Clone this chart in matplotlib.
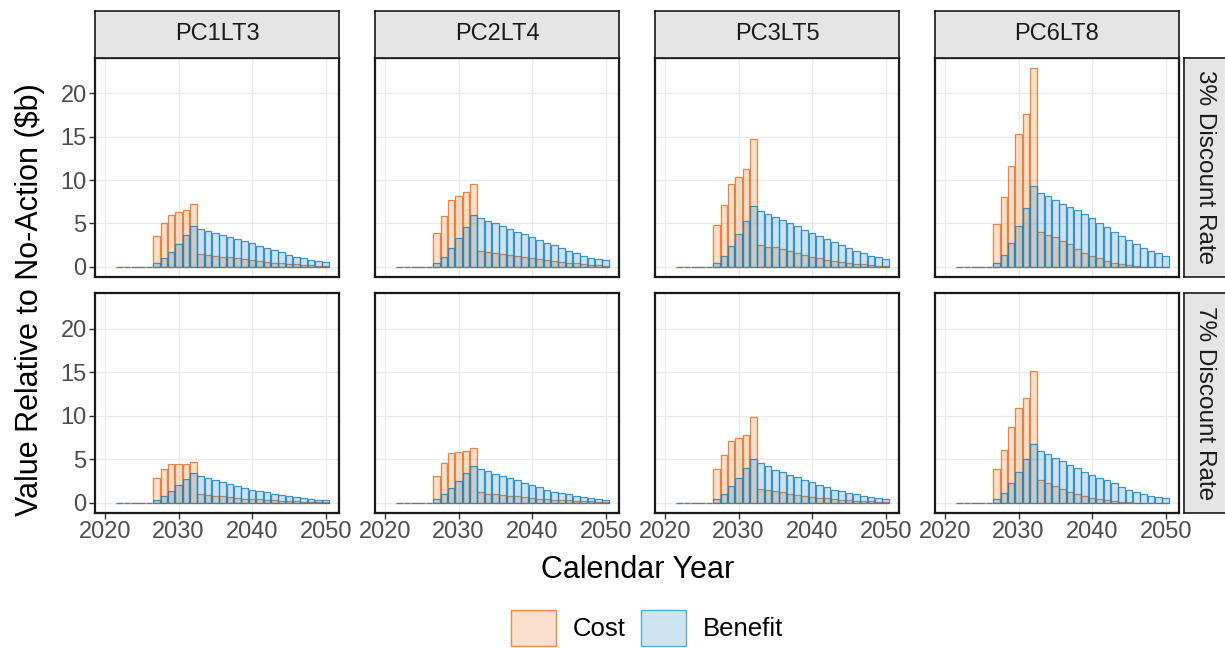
import matplotlib
matplotlib.use("Agg")
import matplotlib.pyplot as plt
from matplotlib.patches import Patch

plt.rcParams['font.family'] = ['Liberation Sans', 'DejaVu Sans']

years = list(range(2022, 2051))
scenarios = ['PC1LT3', 'PC2LT4', 'PC3LT5', 'PC6LT8']
rates = ['3% Discount Rate', '7% Discount Rate']

# 3% discount rate
cost_3 = {
  'PC1LT3': [0, 0, 0, 0, 0, 3.5, 5.0, 6.0, 6.3, 6.5, 7.2, 1.46, 1.35, 1.23, 1.15, 1.08, 0.96, 0.85,
             0.77, 0.65, 0.54, 0.46, 0.40, 0.33, 0.27, 0.20, 0.15, 0.10, 0.07],
  'PC2LT4': [0, 0, 0, 0, 0, 3.85, 5.9, 7.7, 8.2, 8.65, 9.5, 1.85, 1.7, 1.6, 1.5, 1.35, 1.23, 1.1,
             0.96, 0.85, 0.73, 0.62, 0.54, 0.46, 0.38, 0.30, 0.23, 0.15, 0.10],
  'PC3LT5': [0, 0, 0, 0, 0, 4.85, 7.1, 9.6, 10.4, 11.3, 14.8, 2.5, 2.3, 2.23, 2.08, 1.85, 1.62, 1.38,
             1.15, 0.96, 0.80, 0.65, 0.54, 0.42, 0.35, 0.27, 0.19, 0.12, 0.08],
  'PC6LT8': [0, 0, 0, 0, 0, 4.9, 8.0, 11.65, 15.3, 17.65, 23.0, 4.04, 3.69, 3.38, 2.96, 2.58, 2.08, 1.62,
             1.23, 0.96, 0.65, 0.46, 0.31, 0.19, 0.08, 0.0, -0.08, -0.1, -0.1],
}
benefit_3 = {
  'PC1LT3': [0, 0, 0, 0, 0, 0.46, 0.96, 1.73, 2.65, 3.6, 4.65, 4.38, 4.15, 3.88, 3.65, 3.42, 3.19, 2.92,
             2.7, 2.42, 2.12, 1.88, 1.65, 1.38, 1.15, 0.96, 0.77, 0.62, 0.54],
  'PC2LT4': [0, 0, 0, 0, 0, 0.46, 1.15, 2.1, 3.27, 4.54, 5.92, 5.58, 5.3, 5.0, 4.65, 4.35, 4.04, 3.73,
             3.42, 3.08, 2.77, 2.46, 2.15, 1.85, 1.54, 1.27, 1.04, 0.85, 0.73],
  'PC3LT5': [0, 0, 0, 0, 0, 0.46, 1.23, 2.38, 3.73, 5.23, 6.96, 6.42, 6.12, 5.73, 5.38, 5.0, 4.65, 4.27,
             3.92, 3.54, 3.19, 2.85, 2.5, 2.15, 1.81, 1.54, 1.27, 1.08, 0.85],
  'PC6LT8': [0, 0, 0, 0, 0, 0.46, 1.38, 2.77, 4.65, 6.8, 9.35, 8.54, 8.19, 7.73, 7.27, 6.92, 6.5, 6.04,
             5.58, 5.04, 4.54, 4.04, 3.54, 3.08, 2.65, 2.19, 1.81, 1.62, 1.27],
}

# 7% discount rate
cost_7 = {
  'PC1LT3': [0, 0, 0, 0, 0, 2.78, 3.82, 4.48, 4.44, 4.48, 4.71, 0.97, 0.85, 0.77, 0.70, 0.62, 0.54, 0.46,
             0.42, 0.39, 0.31, 0.27, 0.23, 0.19, 0.15, 0.12, 0.08, 0.08, 0.04],
  'PC2LT4': [0, 0, 0, 0, 0, 3.09, 4.52, 5.71, 5.87, 5.91, 6.29, 1.16, 1.04, 0.97, 0.85, 0.77, 0.70, 0.62,
             0.54, 0.46, 0.42, 0.35, 0.31, 0.27, 0.23, 0.19, 0.15, 0.12, 0.08],
  'PC3LT5': [0, 0, 0, 0, 0, 3.86, 5.52, 7.1, 7.41, 7.72, 9.81, 1.54, 1.43, 1.31, 1.16, 1.04, 0.89, 0.77,
             0.66, 0.58, 0.50, 0.42, 0.35, 0.27, 0.23, 0.19, 0.15, 0.12, 0.08],
  'PC6LT8': [0, 0, 0, 0, 0, 3.86, 6.1, 8.65, 10.89, 12.05, 15.17, 2.55, 2.2, 1.93, 1.58, 1.27, 1.04, 0.81,
             0.58, 0.39, 0.27, 0.19, 0.12, 0.04, 0.0, 0.0, 0.0, 0.0, 0.0],
}
benefit_7 = {
  'PC1LT3': [0, 0, 0, 0, 0, 0.31, 0.73, 1.35, 1.97, 2.66, 3.36, 3.05, 2.78, 2.55, 2.32, 2.08, 1.85, 1.66,
             1.5, 1.31, 1.16, 1.0, 0.89, 0.73, 0.62, 0.5, 0.42, 0.35, 0.27],
  'PC2LT4': [0, 0, 0, 0, 0, 0.39, 0.97, 1.66, 2.51, 3.4, 4.25, 3.86, 3.59, 3.32, 3.05, 2.78, 2.55, 2.28,
             2.05, 1.74, 1.5, 1.27, 1.12, 0.93, 0.77, 0.66, 0.5, 0.42, 0.31],
  'PC3LT5': [0, 0, 0, 0, 0, 0.42, 1.04, 1.85, 2.86, 3.94, 5.02, 4.56, 4.21, 3.78, 3.47, 3.13, 2.9, 2.55,
             2.32, 2.05, 1.78, 1.5, 1.31, 1.08, 0.93, 0.73, 0.62, 0.5, 0.39],
  'PC6LT8': [0, 0, 0, 0, 0, 0.39, 1.12, 2.2, 3.51, 5.02, 6.76, 5.98, 5.64, 5.1, 4.75, 4.36, 3.94, 3.51,
             3.2, 2.86, 2.55, 2.2, 1.81, 1.5, 1.27, 1.04, 0.77, 0.66, 0.58],
}

costs = [cost_3, cost_7]
benefits = [benefit_3, benefit_7]

W, H = 1225, 649
fig = plt.figure(figsize=(W / 100, H / 100), dpi=100)

def fx(px):
  return px / W

def fy(py):
  # py measured from top of image
  return 1 - py / H

cost_fill = (0.902, 0.38, 0.004, 0.2)
cost_edge = (0.90, 0.42, 0.10, 0.8)
ben_fill = (0.02, 0.443, 0.69, 0.2)
ben_edge = (0.10, 0.52, 0.78, 0.85)
border = '#1a1a1a'
tick_col = '#4d4d4d'

panel_left = [95, 375, 655, 935]
panel_w = 244
row_top = [58, 293]
row_h = [219, 220]

for r in range(2):
  for c, sc in enumerate(scenarios):
    ax = fig.add_axes([fx(panel_left[c]), fy(row_top[r] + row_h[r]), fx(panel_w), row_h[r] / H])
    ax.bar(years, costs[r][sc], width=0.9, color=cost_fill, edgecolor=cost_edge, linewidth=0.9, zorder=2)
    ax.bar(years, benefits[r][sc], width=0.9, color=ben_fill, edgecolor=ben_edge, linewidth=0.9, zorder=3)
    ax.set_xlim(2018.65, 2051.8)
    ax.set_ylim(-1.2, 24.1)
    ax.set_xticks([2020, 2030, 2040, 2050])
    ax.set_yticks([0, 5, 10, 15, 20])
    ax.grid(True, color='#ebebeb', linewidth=1.0, zorder=0)
    ax.set_axisbelow(True)
    for s in ax.spines.values():
      s.set_color(border)
      s.set_linewidth(1.6)
    ax.tick_params(length=4, width=1.0, color='#333333', labelcolor=tick_col, labelsize=17, pad=2)
    if c != 0:
      ax.tick_params(axis='y', left=False, labelleft=False)
    if r != 1:
      ax.tick_params(axis='x', bottom=False, labelbottom=False)

    if r == 0:
      sax = fig.add_axes([fx(panel_left[c]), fy(58), fx(panel_w), 47 / H])
      sax.set_facecolor('#e5e5e5')
      sax.set_xticks([])
      sax.set_yticks([])
      for s in sax.spines.values():
        s.set_color(border)
        s.set_linewidth(1.2)
      sax.text(0.5, 0.5, sc, ha='center', va='center', fontsize=17, color='#1a1a1a',
               transform=sax.transAxes)

  rax = fig.add_axes([fx(1184), fy(row_top[r] + row_h[r]), fx(46), row_h[r] / H])
  rax.set_facecolor('#e5e5e5')
  rax.set_xticks([])
  rax.set_yticks([])
  for s in rax.spines.values():
    s.set_color(border)
    s.set_linewidth(1.2)
  rax.text(0.45, 0.5, rates[r], ha='center', va='center', rotation=-90, fontsize=17.5,
           color='#1a1a1a', transform=rax.transAxes)

fig.text(fx(30), fy(300), 'Value Relative to No-Action ($b)', rotation=90, ha='center', va='center',
         fontsize=22, color='black')
fig.text(fx(638), fy(570), 'Calendar Year', ha='center', va='center', fontsize=22, color='black')

handles = [Patch(facecolor='#f9dfcc', edgecolor='#ec8a4a', linewidth=1.0, label='Cost'),
           Patch(facecolor='#cde3ef', edgecolor='#5aa8d8', linewidth=1.0, label='Benefit')]
fig.legend(handles=handles, loc='center', bbox_to_anchor=(fx(647), fy(628)), ncol=2, frameon=False,
           fontsize=18.5, handlelength=1.75, handleheight=1.75, handletextpad=0.65, columnspacing=0.6,
           borderaxespad=0)

fig.savefig('out.png', dpi=100)
